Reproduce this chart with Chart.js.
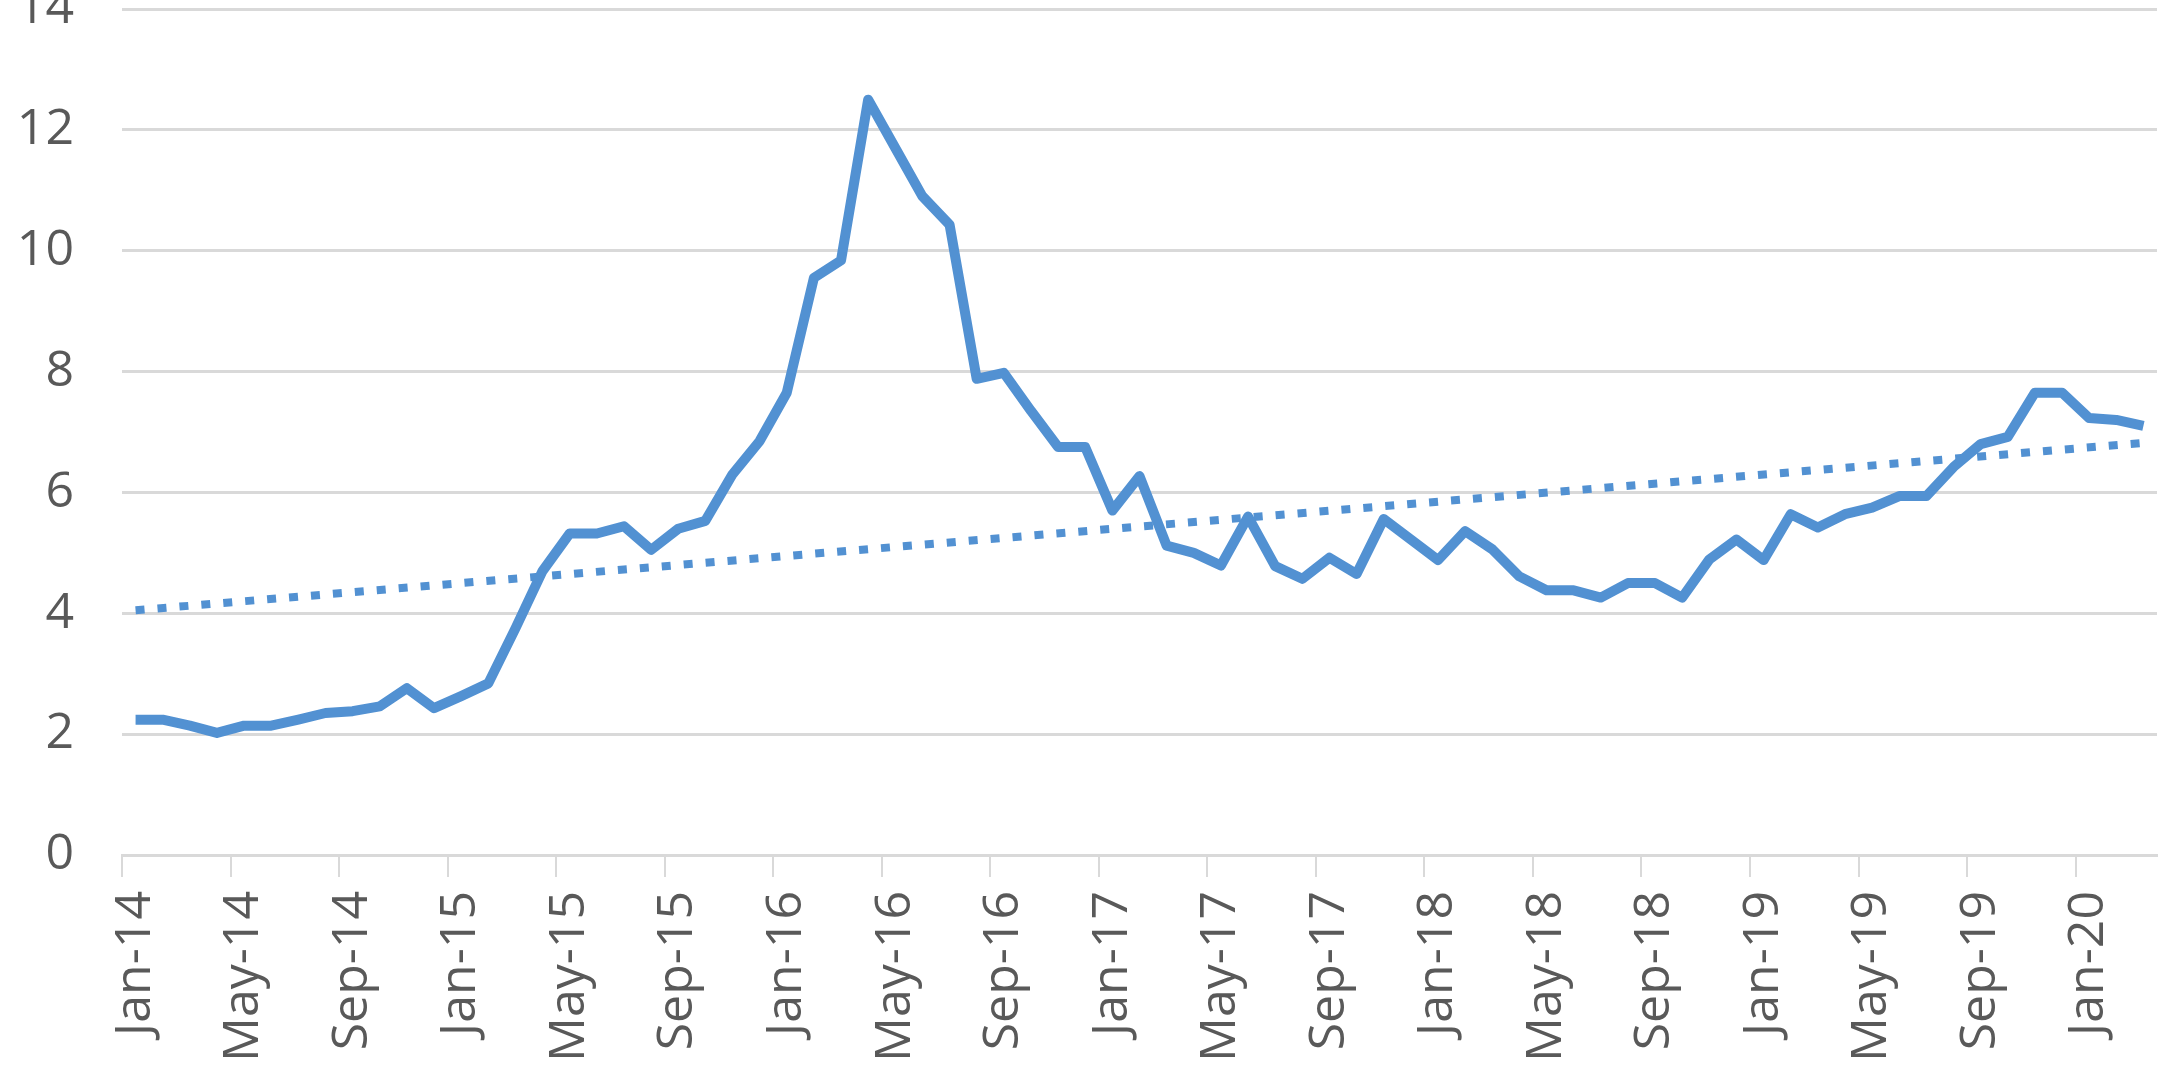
<!DOCTYPE html>
<html>
<head>
<meta charset="utf-8">
<script src="https://cdn.jsdelivr.net/npm/chart.js@4.4.0/dist/chart.umd.min.js"></script>
<style>
html,body{margin:0;padding:0;background:#fff;overflow:hidden;width:2161px;height:1085px;}
#wrap{position:absolute;left:0;top:-30px;}
</style>
</head>
<body>
<div id="wrap"><canvas id="chart" width="2161" height="1115"></canvas></div>
<script>
// monthly categories Jan-14 .. Mar-20
const months = [
  'Jan-14','Feb-14','Mar-14','Apr-14','May-14','Jun-14','Jul-14','Aug-14','Sep-14','Oct-14','Nov-14','Dec-14',
  'Jan-15','Feb-15','Mar-15','Apr-15','May-15','Jun-15','Jul-15','Aug-15','Sep-15','Oct-15','Nov-15','Dec-15',
  'Jan-16','Feb-16','Mar-16','Apr-16','May-16','Jun-16','Jul-16','Aug-16','Sep-16','Oct-16','Nov-16','Dec-16',
  'Jan-17','Feb-17','Mar-17','Apr-17','May-17','Jun-17','Jul-17','Aug-17','Sep-17','Oct-17','Nov-17','Dec-17',
  'Jan-18','Feb-18','Mar-18','Apr-18','May-18','Jun-18','Jul-18','Aug-18','Sep-18','Oct-18','Nov-18','Dec-18',
  'Jan-19','Feb-19','Mar-19','Apr-19','May-19','Jun-19','Jul-19','Aug-19','Sep-19','Oct-19','Nov-19','Dec-19',
  'Jan-20','Feb-20','Mar-20'
];

const values = [
  2.24, 2.24, 2.14, 2.02, 2.14, 2.14, 2.24, 2.35, 2.38, 2.46, 2.76, 2.43,
  2.63, 2.84, 3.75, 4.70, 5.32, 5.32, 5.44, 5.05, 5.40, 5.53, 6.30, 6.85,
  7.65, 9.55, 9.84, 12.50, 11.70, 10.90, 10.43, 7.88, 7.98, 7.35, 6.75, 6.75,
  5.70, 6.27, 5.12, 5.00, 4.79, 5.60, 4.78, 4.57, 4.92, 4.65, 5.56, 5.22,
  4.88, 5.36, 5.06, 4.61, 4.38, 4.38, 4.26, 4.50, 4.50, 4.26, 4.89, 5.22,
  4.88, 5.64, 5.42, 5.64, 5.75, 5.94, 5.94, 6.42, 6.80, 6.92, 7.65, 7.65,
  7.23, 7.20, 7.10
];

// dotted linear trend, ends
const trendStart = 4.05;
const trendEnd = 6.82;

const yMin = 0, yMax = 14, yStep = 2;
const labelEvery = 4;

const trend = months.map((m, i) => i === 0 ? trendStart : (i === months.length - 1 ? trendEnd : null));

const blue = '#5291d2';
const gridGrey = '#d9d9d9';
const textGrey = '#595959';

new Chart(document.getElementById('chart').getContext('2d'), {
  type: 'line',
  data: {
    labels: months,
    datasets: [
      {
        data: values,
        borderColor: blue,
        borderWidth: 10,
        borderJoinStyle: 'round',
        pointRadius: 0,
        tension: 0,
        order: 0
      },
      {
        data: trend,
        borderColor: blue,
        borderWidth: 8,
        borderDash: [9, 13],
        pointRadius: 0,
        spanGaps: true,
        order: 1
      }
    ]
  },
  options: {
    responsive: false,
    animation: false,
    devicePixelRatio: 1,
    layout: { padding: { top: 39, right: 4, bottom: 0, left: 0 } },
    plugins: { legend: { display: false }, tooltip: { enabled: false } },
    scales: {
      x: {
        offset: true,
        grid: {
          offset: true,
          drawOnChartArea: false,
          tickLength: 22,
          lineWidth: 2,
          color: ctx => (ctx.index % labelEvery === 0 ? gridGrey : 'rgba(0,0,0,0)')
        },
        border: { display: true, color: gridGrey, width: 3 },
        ticks: {
          autoSkip: false,
          maxRotation: 90,
          minRotation: 90,
          padding: 14,
          color: textGrey,
          font: { family: '"Open Sans"', size: 50 },
          callback: function(val, i) { return i % labelEvery === 0 ? this.getLabelForValue(val) : ''; }
        },
        afterFit: s => { s.height = 230; s.paddingLeft = 0; s.paddingRight = 0; }
      },
      y: {
        min: yMin,
        max: yMax,
        grid: { color: gridGrey, lineWidth: 3, drawTicks: false },
        border: { display: false },
        ticks: {
          stepSize: yStep,
          padding: 48,
          color: textGrey,
          font: { family: '"Open Sans"', size: 50 }
        },
        afterFit: s => { s.width = 122; s.paddingTop = 0; s.paddingBottom = 0; }
      }
    }
  }
});
</script>
</body>
</html>
